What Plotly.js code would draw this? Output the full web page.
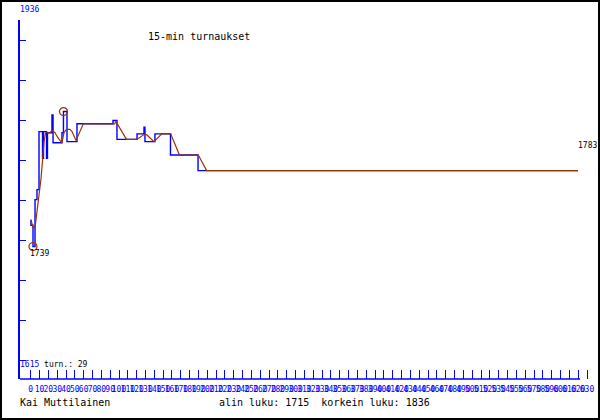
<!DOCTYPE html>
<html>
<head>
<meta charset="utf-8">
<script src="https://cdn.plot.ly/plotly-3.0.1.min.js"></script>
<style>html,body{margin:0;padding:0;background:#fff}#chart{width:600px;height:420px}</style>
</head>
<body>
<div id="chart"></div>
<script>
// ---- data ----
const playerName = "Kai Muttilainen";
const chartTitle = "15-min turnaukset";
const tournamentCount = 29;
const axisTopLabel = 1936;
const axisBottomLabel = 1615;

// x-axis tick labels (every 10 units, 0 ... 630)
const xTickVals = Array.from({length: 64}, (_, i) => i * 10);
const xTickText = xTickVals.map(String);

// blue step series: x where the rating changes, new rating
const ratingX = [0.3, 0.3, 2.6, 4.9, 7.1, 9.4, 13.4, 14.5, 17.9, 19.0, 24.1, 25.3, 35.4, 37.1, 41.1, 52.4, 93.2, 97.7, 120.4, 128.3, 129.4, 140.7, 158.3, 189.5, 619.8];
const ratingY = [1739, 1734, 1715, 1757, 1766, 1818, 1794, 1818, 1794, 1817, 1833, 1808, 1817, 1836, 1809, 1825, 1828, 1811, 1816, 1822, 1809, 1816, 1797, 1783, 1783];

// brown trend line
const trendX = [0.3, 2.6, 4.9, 7.1, 9.4, 11.7, 13.4, 15.1, 16.8, 19.6, 21.9, 24.1, 27.5, 30.4, 33.2, 35.4, 37.7, 40.5, 44.5, 46.8, 49.0, 51.3, 59.6, 94.9, 96.6, 108.5, 120.4, 129.4, 131.7, 139.6, 148.4, 158.5, 168.5, 189.8, 199.3, 619.8];
const trendY = [1739, 1732, 1732, 1746, 1759, 1776, 1792, 1809, 1817, 1817, 1817, 1819, 1817, 1813, 1810, 1808, 1817, 1820, 1820, 1818, 1814, 1810, 1825, 1825, 1827, 1811, 1811, 1816, 1815, 1809, 1816, 1816, 1797, 1797, 1783, 1783];

// ---- derived ----
const minV = Math.min(...ratingY), maxV = Math.max(...ratingY);
const minI = ratingY.indexOf(minV), maxI = ratingY.indexOf(maxV);

const BLUE = "#0000ff", BROWN = "#993300";
const MONO = "DejaVu Sans Mono, monospace";
const X = px => (px - 20) / 570;
const Y = py => (379 - py) / 359;

const traces = [
  {x: ratingX, y: ratingY, mode: "lines", line: {color: BLUE, width: 1.4, shape: "hv"}, hoverinfo: "skip"},
  {x: trendX, y: trendY, mode: "lines", line: {color: BROWN, width: 1.2}, hoverinfo: "skip"},
  {x: [ratingX[minI], ratingX[maxI]], y: [minV, maxV], mode: "markers",
   marker: {symbol: "circle-open", size: 8, color: BROWN, line: {width: 1.2, color: BROWN}}, hoverinfo: "skip"}
];

const ann = (text, px, py, opts) => Object.assign({
  text: text, x: X(px), y: Y(py), xref: "paper", yref: "paper",
  xanchor: "left", yanchor: "middle", showarrow: false,
  font: {family: MONO, size: 8, color: "#000"}
}, opts || {});

const layout = {
  width: 600, height: 420,
  margin: {l: 20, r: 10, t: 20, b: 41},
  paper_bgcolor: "#fff", plot_bgcolor: "#fff",
  showlegend: false,
  xaxis: {
    range: [-12.12, 633.4], tickmode: "array", tickvals: xTickVals, ticktext: xTickText,
    ticks: "inside", ticklen: 9, tickwidth: 1, tickcolor: BLUE,
    showline: false, showgrid: false, zeroline: false, tickangle: 0,
    tickfont: {family: MONO, size: 8, color: BLUE}, ticklabelstandoff: 4
  },
  yaxis: {
    range: [1596.2, 1918.07], tick0: 1936, dtick: 35.865, tickmode: "linear",
    ticks: "inside", ticklen: 6, tickwidth: 1, tickcolor: BLUE,
    showline: true, linecolor: BLUE, linewidth: 2,
    showgrid: false, zeroline: false, showticklabels: false
  },
  shapes: [
    {type: "line", xref: "paper", yref: "paper", x0: X(20), x1: X(580), y0: 0, y1: 0, line: {color: BLUE, width: 1.5}},
    {type: "rect", xref: "paper", yref: "paper", x0: X(1), x1: X(599), y0: Y(1), y1: Y(419), line: {color: "#000", width: 2}}
  ],
  annotations: [
    ann(chartTitle, 146, 37, {font: {family: MONO, size: 10, color: "#000"}}),
    ann(String(axisTopLabel), 18, 9, {font: {family: MONO, size: 8, color: BLUE}}),
    ann('<span style="color:' + BLUE + '">' + axisBottomLabel + '</span> turn.: ' + tournamentCount, 18, 364),
    ann(String(trendY[0]), 28, 253),
    ann(String(trendY[trendY.length - 1]), 599, 145, {xanchor: "right"}),
    ann(playerName, 18, 402, {font: {family: MONO, size: 10, color: "#000"}}),
    ann("alin luku: " + minV + "\u00a0\u00a0korkein luku: " + maxV, 217, 402, {font: {family: MONO, size: 10, color: "#000"}})
  ]
};

Plotly.newPlot("chart", traces, layout, {displayModeBar: false, staticPlot: true});
</script>
</body>
</html>
